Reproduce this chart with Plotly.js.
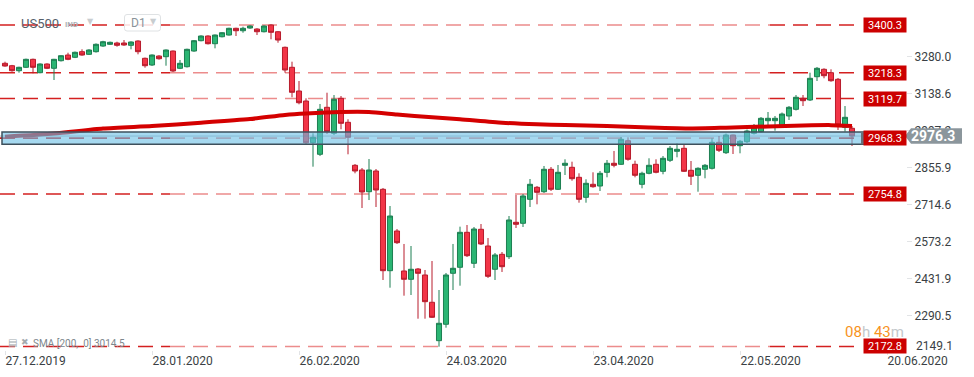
<!DOCTYPE html>
<html><head><meta charset="utf-8">
<script src="https://cdn.plot.ly/plotly-3.0.1.min.js"></script>
<style>html,body{margin:0;padding:0;background:#fff;}#chart{width:974px;height:377px;}</style>
</head><body><div id="chart"></div>
<script>
// ---- data ----
const symbol = "US500";
const openP = [3254.1,3244.9,3225.8,3238.8,3269.3,3218.2,3251.4,3235.0,3264.0,3285.7,
3277.0,3298.4,3288.4,3298.4,3320.1,3326.6,3331.6,3331.6,3322.8,3339.2,
3273.2,3247.6,3281.9,3279.3,3301.0,3235.0,3241.1,3301.0,3340.4,3358.3,
3328.9,3355.6,3362.1,3387.7,3378.5,3388.8,3385.0,3374.7,3400.3,3374.7,
3315.2,3238.8,3148.3,3110.1,2950.9,2906.6,3086.1,2986.8,3120.4,3028.8,
2864.6,2846.7,2763.8,2842.9,2773.0,2462.2,2613.8,2461.1,2429.4,2468.7,
2445.8,2341.6,2195.0,2257.6,2452.3,2475.2,2608.8,2490.5,2620.3,2556.5,
2467.6,2524.8,2515.7,2647.0,2643.2,2734.8,2780.6,2763.8,2849.4,2773.0,
2864.6,2857.0,2818.8,2742.4,2792.1,2785.6,2837.9,2872.3,2868.4,2958.5,
2868.4,2792.1,2834.1,2868.4,2841.7,2883.7,2918.0,2929.5,2845.5,2826.5,
2849.4,2853.2,2952.4,2912.7,2980.3,2939.5,2954.7,2986.8,2992.9,3034.9,
3034.9,3014.7,3052.9,3078.4,3120.4,3114.0,3202.9,3231.2,3218.2,3193.0,
3009.7,3005.9];
const highP = [3260.2,3248.0,3241.0,3272.0,3272.0,3254.0,3254.0,3271.0,3285.0,3294.5,
3299.0,3307.5,3308.0,3330.0,3340.0,3337.0,3336.5,3343.0,3338.0,3342.0,
3276.0,3288.0,3285.0,3307.0,3303.0,3266.7,3310.0,3343.0,3361.0,3361.0,
3364.0,3373.0,3390.0,3390.0,3393.8,3399.0,3388.0,3399.0,3403.0,3377.0,
3318.0,3260.2,3186.5,3120.4,2986.8,3098.7,3141.8,3133.0,3129.2,3040.3,
2869.6,2854.3,2888.7,2850.5,2778.0,2709.2,2621.4,2564.2,2556.5,2472.5,
2464.9,2499.2,2388.5,2453.5,2564.2,2630.3,2636.7,2629.1,2640.5,2587.1,
2529.8,2533.6,2671.0,2751.3,2755.1,2812.3,2785.6,2862.0,2858.1,2865.8,
2887.5,2878.4,2834.1,2811.2,2837.9,2842.9,2884.9,2919.3,2972.7,2971.5,
2882.2,2840.2,2891.4,2887.5,2900.1,2938.3,2948.6,2942.1,2881.0,2857.0,
2869.6,2967.7,2976.5,2986.0,2981.5,2961.3,3001.3,3022.3,3049.0,3068.1,
3052.9,3066.2,3091.0,3133.0,3133.0,3218.2,3240.0,3235.0,3231.2,3198.0,
3091.0,3014.7];
const lowP = [3241.1,3222.0,3218.2,3236.0,3215.9,3216.0,3232.0,3190.3,3261.0,3266.0,
3274.0,3283.0,3286.0,3295.0,3317.0,3324.0,3317.5,3321.0,3307.5,3288.4,
3237.3,3244.0,3268.0,3244.9,3221.0,3232.0,3238.0,3298.0,3338.0,3326.0,
3311.3,3353.0,3360.0,3358.3,3370.9,3386.0,3362.1,3372.0,3345.7,3332.7,
3218.2,3124.3,3097.5,2942.1,2859.3,2900.0,2984.1,2980.0,3002.1,2906.6,
2834.1,2701.6,2732.0,2705.4,2426.7,2397.3,2564.2,2366.8,2369.4,2278.9,
2278.9,2281.6,2172.0,2244.6,2388.5,2404.9,2514.5,2472.5,2560.3,2434.4,
2426.7,2457.3,2506.9,2625.2,2629.1,2705.4,2715.7,2758.9,2766.5,2770.3,
2827.6,2805.8,2721.9,2721.9,2779.1,2766.5,2818.8,2857.0,2865.8,2882.2,
2818.8,2776.8,2830.3,2834.1,2830.3,2877.3,2895.2,2839.0,2789.4,2763.8,
2815.0,2848.6,2915.4,2907.8,2907.8,2910.4,2949.8,2982.2,2989.9,3018.5,
2996.7,3010.9,3037.6,3073.9,3091.0,3110.1,3186.5,3196.8,3183.8,2999.4,
2992.9,2938.3];
const closeP = [3243.7,3225.8,3238.8,3269.3,3238.8,3251.4,3235.0,3269.3,3283.1,3269.3,
3296.1,3285.7,3304.9,3326.6,3336.5,3334.2,3322.8,3324.0,3335.4,3298.4,
3244.9,3285.7,3271.6,3304.9,3224.7,3254.1,3307.5,3340.4,3358.3,3328.9,
3362.1,3370.9,3387.7,3378.5,3387.7,3396.5,3374.7,3396.5,3372.4,3343.0,
3228.5,3143.4,3103.6,2950.9,2971.5,3078.4,2992.9,3116.6,3025.0,2971.5,
2842.9,2762.7,2846.7,2770.3,2462.2,2671.0,2569.1,2429.4,2467.6,2452.3,
2343.9,2284.3,2261.4,2445.8,2471.4,2608.8,2519.5,2621.4,2564.2,2440.8,
2522.2,2477.5,2655.8,2639.4,2747.5,2792.1,2761.5,2849.4,2773.0,2837.9,
2872.3,2813.5,2734.8,2795.9,2782.9,2834.1,2872.3,2864.6,2963.9,2887.5,
2826.5,2834.1,2864.6,2837.9,2891.4,2929.5,2925.7,2841.7,2822.7,2853.2,
2864.6,2952.4,2921.9,2980.3,2939.5,2956.3,2995.6,3009.7,3044.1,3044.1,
3044.1,3060.5,3086.1,3124.3,3111.3,3196.8,3235.0,3206.7,3187.6,3018.5,
3047.9,2976.3];

// SMA(200) read at selected candles
const smaIdx = [0,7,14,21,28,35,40,43,48,52,56,61,65,71,76,80,86,92,98,103,109,114,118,121];
const smaVal = [2973.8,2986.0,3005.1,3014.7,3027.3,3041.4,3056.7,3062.4,3068.1,3068.1,3058.6,3047.9,3040.3,3027.3,3021.2,3018.5,3014.7,3009.0,3005.1,3008.2,3012.8,3016.6,3018.0,3014.5];
const smaLabel = "SMA [200,  0] 3014.5";

// horizontal levels
const levels = [3400.3, 3218.3, 3119.7, 2968.3, 2754.8, 2172.8];
const zoneBounds = [2944.8, 2991.8];
const lastPrice = 2976.3;

// axis labels
const xTickIdx = [0, 21, 42, 63, 84, 105, 126];
const xTickText = ["27.12.2019","28.01.2020","26.02.2020","24.03.2020","23.04.2020","22.05.2020","20.06.2020"];
const yTickVals = [3280.0, 3138.6, 2997.2, 2855.9, 2714.6, 2573.2, 2431.9, 2290.5];
const yBottomLabel = "2149.1";
const timer = ["08","h","43","m"];

// ---- layout helpers ----
const PW = 906, PH = 350;
const X = px => px / PW;
const Y = py => 1 - py / PH;
const yRange = [2159.4, 3495.8];
const xRange = [-0.714, 128.714];
const idx = openP.map((_, i) => i);

const traces = [
  {
    type: 'candlestick', x: idx, open: openP, high: highP, low: lowP, close: closeP,
    increasing: {line: {color: '#1d7f52', width: 1}, fillcolor: '#2bb573'},
    decreasing: {line: {color: '#b81c2c', width: 1}, fillcolor: '#f23547'},
    whiskerwidth: 0, hoverinfo: 'skip', showlegend: false
  },
  {
    type: 'scatter', mode: 'lines', x: smaIdx, y: smaVal,
    line: {color: '#d40000', width: 4, shape: 'spline', smoothing: 0.6},
    hoverinfo: 'skip', showlegend: false
  }
];

const shapes = [];
const annotations = [];
const darkRed = '#d42020', lightRed = '#ec8c8c';
levels.forEach(v => {
  [[0, 170, darkRed], [170, 770, lightRed], [770, 862, darkRed]].forEach(s => {
    shapes.push({type: 'line', xref: 'paper', yref: 'y', x0: X(s[0]), x1: X(s[1]), y0: v, y1: v,
      line: {color: s[2], width: 1.6, dash: '15px,8px'}, layer: 'below'});
  });
  annotations.push({xref: 'paper', yref: 'y', x: X(863), y: v, xanchor: 'left', yanchor: 'middle',
    text: v.toFixed(1), showarrow: false, bgcolor: '#cc0000', width: 38, height: 10, borderpad: 2,
    font: {family: 'Roboto', size: 11, color: '#ffffff'}});
});
// current price line
shapes.push({type: 'line', xref: 'paper', yref: 'y', x0: 0, x1: X(866), y0: lastPrice, y1: lastPrice,
  line: {color: 'rgba(70,90,105,0.45)', width: 1}, layer: 'above'});
// zone band
shapes.push({type: 'rect', xref: 'paper', yref: 'y', x0: X(2), x1: X(866), y0: zoneBounds[0], y1: zoneBounds[1],
  fillcolor: 'rgba(107,192,230,0.6)', line: {color: '#3e505c', width: 1.5}, layer: 'above'});
shapes.push({type: 'rect', xref: 'paper', yref: 'y', x0: X(861), x1: X(866), y0: zoneBounds[0], y1: zoneBounds[1],
  fillcolor: '#66737c', line: {width: 0}, layer: 'above'});

// price tag
const yOf = v => PH * (1 - (v - yRange[0]) / (yRange[1] - yRange[0]));
const py = yOf(lastPrice);
shapes.push({type: 'path', xref: 'paper', yref: 'paper',
  path: `M ${X(905)},${Y(py)} L ${X(911)},${Y(py-7.8)} L ${X(962)},${Y(py-7.8)} L ${X(962)},${Y(py+7.8)} L ${X(911)},${Y(py+7.8)} Z`,
  fillcolor: '#8b969c', line: {width: 0}, layer: 'above'});
annotations.push({xref: 'paper', yref: 'y', x: X(932.5), y: lastPrice, xanchor: 'center', yanchor: 'middle',
  text: '<b>' + lastPrice.toFixed(1) + '</b>', showarrow: false, font: {family: 'Roboto', size: 14, color: '#ffffff'}});

// bottom y label
annotations.push({xref: 'paper', yref: 'paper', x: X(914), y: Y(346), xanchor: 'left', yanchor: 'middle',
  text: yBottomLabel, showarrow: false, font: {family: 'Roboto', size: 12, color: '#3a3f44'}});

// timer
annotations.push({xref: 'paper', yref: 'paper', x: X(906), y: Y(332), xanchor: 'right', yanchor: 'middle', showarrow: false,
  text: `<span style="color:#f7931e">${timer[0]}</span><span style="color:#c3c8cc">${timer[1]}</span> <span style="color:#f7931e">${timer[2]}</span><span style="color:#c3c8cc">${timer[3]}</span>`,
  font: {family: 'Roboto', size: 15}});

// SMA legend
annotations.push({xref: 'paper', yref: 'paper', x: X(31), y: Y(343.5), xanchor: 'left', yanchor: 'middle', showarrow: false,
  text: smaLabel, font: {family: 'Roboto', size: 10, color: '#7d878d'}});
annotations.push({xref: 'paper', yref: 'paper', x: X(6), y: Y(342), xanchor: 'left', yanchor: 'middle', showarrow: false,
  text: '▤', font: {family: 'DejaVu Sans', size: 10, color: '#a4abb0'}});
annotations.push({xref: 'paper', yref: 'paper', x: X(19), y: Y(342), xanchor: 'left', yanchor: 'middle', showarrow: false,
  text: '✖', font: {family: 'DejaVu Sans', size: 9, color: '#a4abb0'}});

// top-left header
annotations.push({xref: 'paper', yref: 'paper', x: X(19), y: Y(23), xanchor: 'left', yanchor: 'middle', showarrow: false,
  text: symbol, font: {family: 'Roboto', size: 13, color: '#56606a'}});
annotations.push({xref: 'paper', yref: 'paper', x: X(63), y: Y(24), xanchor: 'left', yanchor: 'middle', showarrow: false,
  text: '<b>IND</b>', font: {family: 'Roboto', size: 8, color: '#aab1b6'}});
annotations.push({xref: 'paper', yref: 'paper', x: X(85), y: Y(22), xanchor: 'left', yanchor: 'middle', showarrow: false,
  text: '▼', font: {family: 'DejaVu Sans', size: 8, color: '#c8cdd0'}});
shapes.push({type: 'path', xref: 'paper', yref: 'paper',
  path: `M ${X(127)},${Y(14.5)} L ${X(158)},${Y(14.5)} Q ${X(160.5)},${Y(14.5)} ${X(160.5)},${Y(17)} L ${X(160.5)},${Y(28.5)} Q ${X(160.5)},${Y(31)} ${X(158)},${Y(31)} L ${X(127)},${Y(31)} Q ${X(124.5)},${Y(31)} ${X(124.5)},${Y(28.5)} L ${X(124.5)},${Y(17)} Q ${X(124.5)},${Y(14.5)} ${X(127)},${Y(14.5)} Z`,
  fillcolor: 'rgba(255,255,255,0.85)', line: {color: '#dfe2e4', width: 1}, layer: 'above'});
annotations.push({xref: 'paper', yref: 'paper', x: X(129), y: Y(23), xanchor: 'left', yanchor: 'middle', showarrow: false,
  text: 'D1', font: {family: 'Roboto', size: 12, color: '#8a9399'}});
annotations.push({xref: 'paper', yref: 'paper', x: X(148), y: Y(22), xanchor: 'left', yanchor: 'middle', showarrow: false,
  text: '▼', font: {family: 'DejaVu Sans', size: 8, color: '#c8cdd0'}});

const layout = {
  width: 974, height: 377,
  margin: {l: 0, r: 68, t: 0, b: 27, pad: 0},
  paper_bgcolor: '#ffffff', plot_bgcolor: '#ffffff',
  showlegend: false, dragmode: false,
  boxgap: 0.28, boxgroupgap: 0,
  font: {family: 'Roboto, sans-serif', size: 12, color: '#3a3f44'},
  xaxis: {
    type: 'linear', range: xRange, tickvals: xTickIdx, ticktext: xTickText,
    ticklabelposition: 'outside right', ticks: 'outside', ticklen: 4, tickcolor: '#e2e4e6',
    showgrid: false, zeroline: false, showline: false,
    tickfont: {family: 'Roboto', size: 12, color: '#3a3f44'},
    rangeslider: {visible: false}, fixedrange: true
  },
  yaxis: {
    side: 'right', range: yRange, tickvals: yTickVals, ticktext: yTickVals.map(v => v.toFixed(1)),
    ticks: 'outside', ticklen: 5, tickcolor: '#e2e4e6',
    showgrid: false, zeroline: false, showline: false,
    tickfont: {family: 'Roboto', size: 12, color: '#3a3f44'}, fixedrange: true
  },
  shapes: shapes,
  annotations: annotations
};

Plotly.newPlot('chart', traces, layout, {staticPlot: true, displayModeBar: false});
</script></body></html>
